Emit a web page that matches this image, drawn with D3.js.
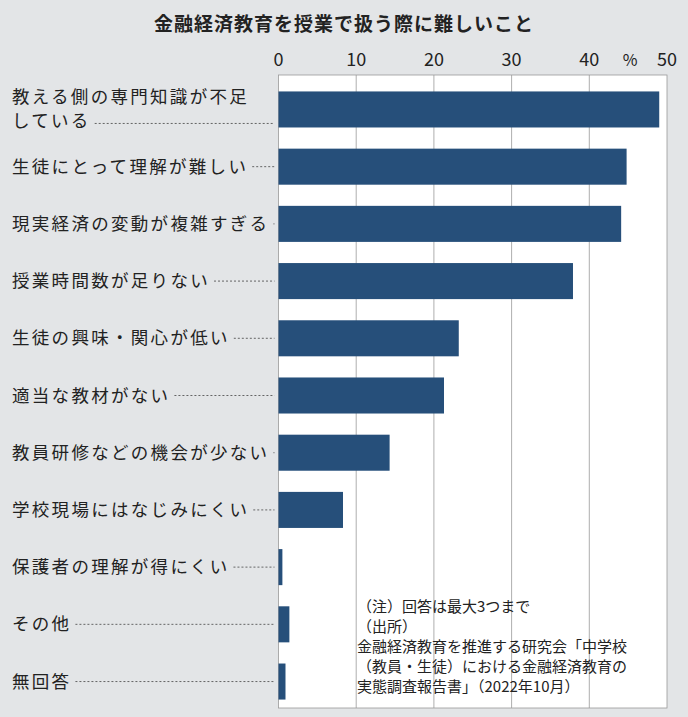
<!DOCTYPE html>
<html><head><meta charset="utf-8">
<script src="https://cdn.jsdelivr.net/npm/d3@7"></script>
<style>body{margin:0;background:#e3e5e7}</style>
</head><body><div id="chart"></div>
<script>
const categories = [
  ["教える側の専門知識が不足", "している"],
  ["生徒にとって理解が難しい"],
  ["現実経済の変動が複雑すぎる"],
  ["授業時間数が足りない"],
  ["生徒の興味・関心が低い"],
  ["適当な教材がない"],
  ["教員研修などの機会が少ない"],
  ["学校現場にはなじみにくい"],
  ["保護者の理解が得にくい"],
  ["その他"],
  ["無回答"]
];
const values = [49.0, 44.8, 44.1, 37.9, 23.2, 21.3, 14.3, 8.3, 0.5, 1.4, 0.9];
const ticks = [0, 10, 20, 30, 40, 50];
const note = ["（注）回答は最大3つまで", "（出所）", "金融経済教育を推進する研究会「中学校", "（教員・生徒）における金融経済教育の", "実態調査報告書」（2022年10月）"];

const W = 688, H = 717;
const font = "'Noto Sans CJK JP', sans-serif";
const svg = d3.select("#chart").append("svg").attr("width", W).attr("height", H)
  .style("font-family", font);
svg.append("rect").attr("width", W).attr("height", H).attr("fill", "#e3e5e7");

const x = d3.scaleLinear().domain([0, 50]).range([278.5, 667]);
const y = d3.scaleBand().domain(d3.range(categories.length)).range([80, 711]).paddingInner(0.37).paddingOuter(0.2);

svg.append("text").attr("x", 344).attr("y", 31).attr("text-anchor", "middle")
  .attr("font-size", 19).attr("font-weight", "bold").attr("fill", "#222")
  .attr("letter-spacing", 1)
  .text("金融経済教育を授業で扱う際に難しいこと");

svg.append("rect").attr("x", x(0)).attr("y", 75).attr("width", x(50) - x(0)).attr("height", 633)
  .attr("fill", "#fff").attr("stroke", "#999").attr("stroke-width", 0.8);

svg.selectAll(".grid").data(ticks.slice(1, 5)).enter().append("line")
  .attr("x1", d => x(d)).attr("x2", d => x(d)).attr("y1", 75).attr("y2", 708)
  .attr("stroke", "#999").attr("stroke-width", 0.8);

svg.selectAll(".tick").data(ticks).enter().append("text")
  .attr("x", d => x(d)).attr("y", 66).attr("text-anchor", "middle")
  .attr("font-size", 18).attr("fill", "#222").text(d => d);
svg.append("text").attr("x", 630).attr("y", 66).attr("text-anchor", "middle")
  .attr("font-size", 16).attr("fill", "#222").text("%");

svg.selectAll(".bar").data(values).enter().append("rect")
  .attr("x", x(0)).attr("y", (d, i) => y(i)).attr("width", d => x(d) - x(0))
  .attr("height", y.bandwidth()).attr("fill", "#264f7a");

categories.forEach((lines, i) => {
  const cy = y(i) + y.bandwidth() / 2;
  const g = svg.append("text").attr("x", 12).attr("font-size", 17.5)
    .attr("letter-spacing", 2.3).attr("fill", "#222");
  lines.forEach((t, j) => {
    g.append("tspan").attr("x", 12)
      .attr("y", cy + 6 + (j - (lines.length - 1) / 2) * 24).text(t);
  });
  const last = g.node().lastChild.getComputedTextLength();
  const ly = lines.length > 1 ? cy + 14 : cy;
  svg.append("line").attr("x1", 12 + last + 4).attr("x2", x(0) - 4)
    .attr("y1", ly).attr("y2", ly)
    .attr("stroke", "#444").attr("stroke-width", 0.8).attr("stroke-dasharray", "2,2");
});

const nt = svg.append("text").attr("font-size", 15).attr("fill", "#222");
note.forEach((t, i) => {
  nt.append("tspan").attr("x", 357).attr("y", 612 + i * 20).text(t);
});
</script></body></html>
